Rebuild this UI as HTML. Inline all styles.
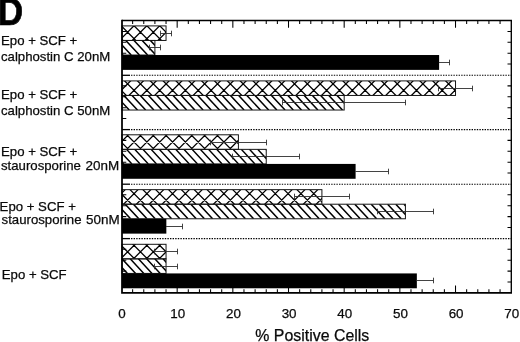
<!DOCTYPE html>
<html lang="en"><head><meta charset="utf-8"><title>Figure D</title>
<style>html,body{margin:0;padding:0;background:#fff}body{width:520px;height:342px;overflow:hidden}svg{display:block}text{font-family:"Liberation Sans",Arial,Helvetica,sans-serif;fill:#0a0a0a;stroke:#0a0a0a;stroke-width:0.25px}</style>
</head><body>
<svg width="520" height="342" viewBox="0 0 520 342">
<rect x="0" y="0" width="520" height="342" fill="#fff"/>
<text x="-2.58" y="24.9" font-size="38.5" font-weight="bold" style="fill:#000;stroke:#000;stroke-width:0.7px" transform="scale(0.915,1)">D</text>
<clipPath id="c1"><rect x="122.00" y="25.90" width="44.04" height="14.56"/></clipPath>
<g clip-path="url(#c1)" stroke="#000" stroke-width="1.3" fill="none">
<path d="M107.51 24.90L123.96 41.46M122.01 24.90L105.56 41.46M120.35 24.90L136.80 41.46M134.85 24.90L118.40 41.46M133.19 24.90L149.64 41.46M147.69 24.90L131.24 41.46M146.03 24.90L162.48 41.46M160.53 24.90L144.08 41.46M158.87 24.90L175.32 41.46M173.37 24.90L156.92 41.46"/>
</g>
<rect x="122.00" y="25.90" width="44.04" height="14.56" fill="none" stroke="#151515" stroke-width="1.0"/>
<clipPath id="c2"><rect x="122.00" y="40.46" width="32.90" height="14.56"/></clipPath>
<g clip-path="url(#c2)" stroke="#000" stroke-width="1.5" fill="none">
<path d="M101.20 40.46L114.81 55.02M109.40 40.46L123.01 55.02M117.60 40.46L131.21 55.02M125.80 40.46L139.41 55.02M134.00 40.46L147.61 55.02M142.20 40.46L155.81 55.02M150.40 40.46L164.01 55.02M158.60 40.46L172.21 55.02"/>
</g>
<rect x="122.00" y="40.46" width="32.90" height="14.56" fill="none" stroke="#151515" stroke-width="1.0"/>
<rect x="122.00" y="55.02" width="317.12" height="14.86" fill="#000"/>
<path d="M160.50 33.50H171.50M171.50 30.70V36.30M160.50 30.70V36.30" stroke="#2e2e2e" stroke-width="0.9" fill="none"/>
<path d="M149.50 47.50H160.50M160.50 44.70V50.30M149.50 44.70V50.30" stroke="#2e2e2e" stroke-width="0.9" fill="none"/>
<path d="M438.82 62.50H449.50M449.50 59.70V65.30" stroke="#2e2e2e" stroke-width="0.9" fill="none"/>
<clipPath id="c3"><rect x="122.00" y="80.90" width="333.52" height="14.56"/></clipPath>
<g clip-path="url(#c3)" stroke="#000" stroke-width="1.3" fill="none">
<path d="M110.80 79.90L127.26 96.46M123.64 79.90L140.10 96.46M136.48 79.90L152.94 96.46M149.32 79.90L165.78 96.46M162.16 79.90L178.62 96.46M175.00 79.90L191.46 96.46M187.84 79.90L204.30 96.46M200.68 79.90L217.14 96.46M213.52 79.90L229.98 96.46M226.36 79.90L242.82 96.46M131.56 79.90L115.10 96.46M239.20 79.90L255.66 96.46M144.40 79.90L127.94 96.46M252.04 79.90L268.50 96.46M157.24 79.90L140.78 96.46M264.88 79.90L281.34 96.46M170.08 79.90L153.62 96.46M277.72 79.90L294.18 96.46M182.92 79.90L166.46 96.46M290.56 79.90L307.02 96.46M195.76 79.90L179.30 96.46M303.40 79.90L319.86 96.46M208.60 79.90L192.14 96.46M316.24 79.90L332.70 96.46M221.44 79.90L204.98 96.46M329.08 79.90L345.54 96.46M234.28 79.90L217.82 96.46M341.92 79.90L358.38 96.46M247.12 79.90L230.66 96.46M354.76 79.90L371.22 96.46M259.96 79.90L243.50 96.46M367.60 79.90L384.06 96.46M272.80 79.90L256.34 96.46M380.44 79.90L396.90 96.46M285.64 79.90L269.18 96.46M393.28 79.90L409.74 96.46M298.48 79.90L282.02 96.46M406.12 79.90L422.58 96.46M311.32 79.90L294.86 96.46M418.96 79.90L435.42 96.46M324.16 79.90L307.70 96.46M431.80 79.90L448.26 96.46M337.00 79.90L320.54 96.46M444.64 79.90L461.10 96.46M349.84 79.90L333.38 96.46M457.48 79.90L473.94 96.46M362.68 79.90L346.22 96.46M375.52 79.90L359.06 96.46M388.36 79.90L371.90 96.46M401.20 79.90L384.74 96.46M414.04 79.90L397.58 96.46M426.88 79.90L410.42 96.46M439.72 79.90L423.26 96.46M452.56 79.90L436.10 96.46M465.40 79.90L448.94 96.46"/>
</g>
<rect x="122.00" y="80.90" width="333.52" height="14.56" fill="none" stroke="#151515" stroke-width="1.0"/>
<clipPath id="c4"><rect x="122.00" y="95.46" width="222.18" height="14.56"/></clipPath>
<g clip-path="url(#c4)" stroke="#000" stroke-width="1.5" fill="none">
<path d="M99.25 95.46L112.86 110.02M107.45 95.46L121.06 110.02M115.65 95.46L129.26 110.02M123.85 95.46L137.46 110.02M132.05 95.46L145.66 110.02M140.25 95.46L153.86 110.02M148.45 95.46L162.06 110.02M156.65 95.46L170.26 110.02M164.85 95.46L178.46 110.02M173.05 95.46L186.66 110.02M181.25 95.46L194.86 110.02M189.45 95.46L203.06 110.02M197.65 95.46L211.26 110.02M205.85 95.46L219.46 110.02M214.05 95.46L227.66 110.02M222.25 95.46L235.86 110.02M230.45 95.46L244.06 110.02M238.65 95.46L252.26 110.02M246.85 95.46L260.46 110.02M255.05 95.46L268.66 110.02M263.25 95.46L276.86 110.02M271.45 95.46L285.06 110.02M279.65 95.46L293.26 110.02M287.85 95.46L301.46 110.02M296.05 95.46L309.66 110.02M304.25 95.46L317.86 110.02M312.45 95.46L326.06 110.02M320.65 95.46L334.26 110.02M328.85 95.46L342.46 110.02M337.05 95.46L350.66 110.02M345.25 95.46L358.86 110.02"/>
</g>
<rect x="122.00" y="95.46" width="222.18" height="14.56" fill="none" stroke="#151515" stroke-width="1.0"/>
<path d="M438.50 88.50H472.50M472.50 85.70V91.30M438.50 85.70V91.30" stroke="#2e2e2e" stroke-width="0.9" fill="none"/>
<path d="M282.50 102.50H405.50M405.50 99.70V105.30M282.50 99.70V105.30" stroke="#2e2e2e" stroke-width="0.9" fill="none"/>
<clipPath id="c5"><rect x="122.00" y="134.80" width="116.41" height="14.56"/></clipPath>
<g clip-path="url(#c5)" stroke="#000" stroke-width="1.3" fill="none">
<path d="M113.01 133.80L129.47 150.36M125.85 133.80L142.31 150.36M138.69 133.80L155.15 150.36M151.53 133.80L167.99 150.36M164.37 133.80L180.83 150.36M177.21 133.80L193.67 150.36M190.05 133.80L206.51 150.36M202.89 133.80L219.35 150.36M215.73 133.80L232.19 150.36M228.57 133.80L245.03 150.36M129.35 133.80L112.89 150.36M142.19 133.80L125.73 150.36M155.03 133.80L138.57 150.36M167.87 133.80L151.41 150.36M180.71 133.80L164.25 150.36M193.55 133.80L177.09 150.36M206.39 133.80L189.93 150.36M219.23 133.80L202.77 150.36M232.07 133.80L215.61 150.36M244.91 133.80L228.45 150.36"/>
</g>
<rect x="122.00" y="134.80" width="116.41" height="14.56" fill="none" stroke="#151515" stroke-width="1.0"/>
<clipPath id="c6"><rect x="122.00" y="149.36" width="144.24" height="14.56"/></clipPath>
<g clip-path="url(#c6)" stroke="#000" stroke-width="1.5" fill="none">
<path d="M101.90 149.36L115.51 163.92M110.10 149.36L123.71 163.92M118.30 149.36L131.91 163.92M126.50 149.36L140.11 163.92M134.70 149.36L148.31 163.92M142.90 149.36L156.51 163.92M151.10 149.36L164.71 163.92M159.30 149.36L172.91 163.92M167.50 149.36L181.11 163.92M175.70 149.36L189.31 163.92M183.90 149.36L197.51 163.92M192.10 149.36L205.71 163.92M200.30 149.36L213.91 163.92M208.50 149.36L222.11 163.92M216.70 149.36L230.31 163.92M224.90 149.36L238.51 163.92M233.10 149.36L246.71 163.92M241.30 149.36L254.91 163.92M249.50 149.36L263.11 163.92M257.70 149.36L271.31 163.92M265.90 149.36L279.51 163.92M274.10 149.36L287.71 163.92"/>
</g>
<rect x="122.00" y="149.36" width="144.24" height="14.56" fill="none" stroke="#151515" stroke-width="1.0"/>
<rect x="122.00" y="163.92" width="233.61" height="14.86" fill="#000"/>
<path d="M210.50 142.50H266.50M266.50 139.70V145.30M210.50 139.70V145.30" stroke="#2e2e2e" stroke-width="0.9" fill="none"/>
<path d="M232.50 156.50H299.50M299.50 153.70V159.30M232.50 153.70V159.30" stroke="#2e2e2e" stroke-width="0.9" fill="none"/>
<path d="M355.31 171.50H388.50M388.50 168.70V174.30" stroke="#2e2e2e" stroke-width="0.9" fill="none"/>
<clipPath id="c7"><rect x="122.00" y="189.65" width="199.91" height="14.56"/></clipPath>
<g clip-path="url(#c7)" stroke="#000" stroke-width="1.3" fill="none">
<path d="M116.16 188.65L132.62 205.21M129.00 188.65L145.46 205.21M141.84 188.65L158.30 205.21M154.68 188.65L171.14 205.21M167.52 188.65L183.98 205.21M180.36 188.65L196.82 205.21M193.20 188.65L209.66 205.21M206.04 188.65L222.50 205.21M218.88 188.65L235.34 205.21M231.72 188.65L248.18 205.21M244.56 188.65L261.02 205.21M257.40 188.65L273.86 205.21M270.24 188.65L286.70 205.21M283.08 188.65L299.54 205.21M295.92 188.65L312.38 205.21M308.76 188.65L325.22 205.21M321.60 188.65L338.06 205.21M126.20 188.65L109.74 205.21M139.04 188.65L122.58 205.21M151.88 188.65L135.42 205.21M164.72 188.65L148.26 205.21M177.56 188.65L161.10 205.21M190.40 188.65L173.94 205.21M203.24 188.65L186.78 205.21M216.08 188.65L199.62 205.21M228.92 188.65L212.46 205.21M241.76 188.65L225.30 205.21M254.60 188.65L238.14 205.21M267.44 188.65L250.98 205.21M280.28 188.65L263.82 205.21M293.12 188.65L276.66 205.21M305.96 188.65L289.50 205.21M318.80 188.65L302.34 205.21M331.64 188.65L315.18 205.21"/>
</g>
<rect x="122.00" y="189.65" width="199.91" height="14.56" fill="none" stroke="#151515" stroke-width="1.0"/>
<clipPath id="c8"><rect x="122.00" y="204.21" width="283.42" height="14.56"/></clipPath>
<g clip-path="url(#c8)" stroke="#000" stroke-width="1.5" fill="none">
<path d="M100.60 204.21L114.21 218.77M108.80 204.21L122.41 218.77M117.00 204.21L130.61 218.77M125.20 204.21L138.81 218.77M133.40 204.21L147.01 218.77M141.60 204.21L155.21 218.77M149.80 204.21L163.41 218.77M158.00 204.21L171.61 218.77M166.20 204.21L179.81 218.77M174.40 204.21L188.01 218.77M182.60 204.21L196.21 218.77M190.80 204.21L204.41 218.77M199.00 204.21L212.61 218.77M207.20 204.21L220.81 218.77M215.40 204.21L229.01 218.77M223.60 204.21L237.21 218.77M231.80 204.21L245.41 218.77M240.00 204.21L253.61 218.77M248.20 204.21L261.81 218.77M256.40 204.21L270.01 218.77M264.60 204.21L278.21 218.77M272.80 204.21L286.41 218.77M281.00 204.21L294.61 218.77M289.20 204.21L302.81 218.77M297.40 204.21L311.01 218.77M305.60 204.21L319.21 218.77M313.80 204.21L327.41 218.77M322.00 204.21L335.61 218.77M330.20 204.21L343.81 218.77M338.40 204.21L352.01 218.77M346.60 204.21L360.21 218.77M354.80 204.21L368.41 218.77M363.00 204.21L376.61 218.77M371.20 204.21L384.81 218.77M379.40 204.21L393.01 218.77M387.60 204.21L401.21 218.77M395.80 204.21L409.41 218.77M404.00 204.21L417.61 218.77M412.20 204.21L425.81 218.77"/>
</g>
<rect x="122.00" y="204.21" width="283.42" height="14.56" fill="none" stroke="#151515" stroke-width="1.0"/>
<rect x="122.00" y="218.77" width="44.34" height="14.86" fill="#000"/>
<path d="M294.50 196.50H349.50M349.50 193.70V199.30M294.50 193.70V199.30" stroke="#2e2e2e" stroke-width="0.9" fill="none"/>
<path d="M377.50 211.50H433.50M433.50 208.70V214.30M377.50 208.70V214.30" stroke="#2e2e2e" stroke-width="0.9" fill="none"/>
<path d="M166.04 226.50H182.50M182.50 223.70V229.30" stroke="#2e2e2e" stroke-width="0.9" fill="none"/>
<clipPath id="c9"><rect x="122.00" y="244.30" width="44.04" height="14.56"/></clipPath>
<g clip-path="url(#c9)" stroke="#000" stroke-width="1.3" fill="none">
<path d="M106.27 243.30L122.73 259.86M119.11 243.30L135.57 259.86M131.95 243.30L148.41 259.86M144.79 243.30L161.25 259.86M157.63 243.30L174.09 259.86M123.25 243.30L106.79 259.86M136.09 243.30L119.63 259.86M148.93 243.30L132.47 259.86M161.77 243.30L145.31 259.86M174.61 243.30L158.15 259.86"/>
</g>
<rect x="122.00" y="244.30" width="44.04" height="14.56" fill="none" stroke="#151515" stroke-width="1.0"/>
<clipPath id="c10"><rect x="122.00" y="258.86" width="44.04" height="14.56"/></clipPath>
<g clip-path="url(#c10)" stroke="#000" stroke-width="1.5" fill="none">
<path d="M97.40 258.86L111.01 273.42M105.60 258.86L119.21 273.42M113.80 258.86L127.41 273.42M122.00 258.86L135.61 273.42M130.20 258.86L143.81 273.42M138.40 258.86L152.01 273.42M146.60 258.86L160.21 273.42M154.80 258.86L168.41 273.42M163.00 258.86L176.61 273.42M171.20 258.86L184.81 273.42"/>
</g>
<rect x="122.00" y="258.86" width="44.04" height="14.56" fill="none" stroke="#151515" stroke-width="1.0"/>
<rect x="122.00" y="273.42" width="294.85" height="14.86" fill="#000"/>
<path d="M154.50 251.50H177.50M177.50 248.70V254.30M154.50 248.70V254.30" stroke="#2e2e2e" stroke-width="0.9" fill="none"/>
<path d="M154.50 266.50H177.50M177.50 263.70V269.30M154.50 263.70V269.30" stroke="#2e2e2e" stroke-width="0.9" fill="none"/>
<path d="M416.55 280.50H433.50M433.50 277.70V283.30" stroke="#2e2e2e" stroke-width="0.9" fill="none"/>
<line x1="122.00" y1="75.30" x2="130.00" y2="75.30" stroke="#000" stroke-width="1.3"/>
<line x1="131.00" y1="75.30" x2="511.30" y2="75.30" stroke="#000" stroke-width="1.1" stroke-dasharray="1.4 1.2"/>
<line x1="122.00" y1="129.60" x2="130.00" y2="129.60" stroke="#000" stroke-width="1.3"/>
<line x1="131.00" y1="129.60" x2="511.30" y2="129.60" stroke="#000" stroke-width="1.1" stroke-dasharray="1.4 1.2"/>
<line x1="122.00" y1="184.20" x2="130.00" y2="184.20" stroke="#000" stroke-width="1.3"/>
<line x1="131.00" y1="184.20" x2="511.30" y2="184.20" stroke="#000" stroke-width="1.1" stroke-dasharray="1.4 1.2"/>
<line x1="122.00" y1="238.60" x2="130.00" y2="238.60" stroke="#000" stroke-width="1.3"/>
<line x1="131.00" y1="238.60" x2="511.30" y2="238.60" stroke="#000" stroke-width="1.1" stroke-dasharray="1.4 1.2"/>
<path d="M132.63 20.50v3.6M132.63 292.90v-3.6M143.77 20.50v3.6M143.77 292.90v-3.6M154.90 20.50v3.6M154.90 292.90v-3.6M166.04 20.50v3.6M166.04 292.90v-3.6M177.17 20.50v7.3M177.17 292.90v-7.3M188.30 20.50v3.6M188.30 292.90v-3.6M199.44 20.50v3.6M199.44 292.90v-3.6M210.57 20.50v3.6M210.57 292.90v-3.6M221.71 20.50v3.6M221.71 292.90v-3.6M232.84 20.50v7.3M232.84 292.90v-7.3M243.97 20.50v3.6M243.97 292.90v-3.6M255.11 20.50v3.6M255.11 292.90v-3.6M266.24 20.50v3.6M266.24 292.90v-3.6M277.38 20.50v3.6M277.38 292.90v-3.6M288.51 20.50v7.3M288.51 292.90v-7.3M299.64 20.50v3.6M299.64 292.90v-3.6M310.78 20.50v3.6M310.78 292.90v-3.6M321.91 20.50v3.6M321.91 292.90v-3.6M333.05 20.50v3.6M333.05 292.90v-3.6M344.18 20.50v7.3M344.18 292.90v-7.3M355.31 20.50v3.6M355.31 292.90v-3.6M366.45 20.50v3.6M366.45 292.90v-3.6M377.58 20.50v3.6M377.58 292.90v-3.6M388.72 20.50v3.6M388.72 292.90v-3.6M399.85 20.50v7.3M399.85 292.90v-7.3M410.98 20.50v3.6M410.98 292.90v-3.6M422.12 20.50v3.6M422.12 292.90v-3.6M433.25 20.50v3.6M433.25 292.90v-3.6M444.39 20.50v3.6M444.39 292.90v-3.6M455.52 20.50v7.3M455.52 292.90v-7.3M466.65 20.50v3.6M466.65 292.90v-3.6M477.79 20.50v3.6M477.79 292.90v-3.6M488.92 20.50v3.6M488.92 292.90v-3.6M500.06 20.50v3.6M500.06 292.90v-3.6M122.00 31.40h4.3M511.30 31.40h-3.8M122.00 42.29h4.3M511.30 42.29h-3.8M122.00 53.19h4.3M511.30 53.19h-3.8M122.00 64.08h4.3M511.30 64.08h-3.8M122.00 85.88h4.3M511.30 85.88h-3.8M122.00 96.77h4.3M511.30 96.77h-3.8M122.00 107.67h4.3M511.30 107.67h-3.8M122.00 118.56h4.3M511.30 118.56h-3.8M122.00 140.36h4.3M511.30 140.36h-3.8M122.00 151.25h4.3M511.30 151.25h-3.8M122.00 162.15h4.3M511.30 162.15h-3.8M122.00 173.04h4.3M511.30 173.04h-3.8M122.00 194.84h4.3M511.30 194.84h-3.8M122.00 205.73h4.3M511.30 205.73h-3.8M122.00 216.63h4.3M511.30 216.63h-3.8M122.00 227.52h4.3M511.30 227.52h-3.8M122.00 249.32h4.3M511.30 249.32h-3.8M122.00 260.21h4.3M511.30 260.21h-3.8M122.00 271.11h4.3M511.30 271.11h-3.8M122.00 282.00h4.3M511.30 282.00h-3.8" stroke="#000" stroke-width="1.05" fill="none"/>
<path d="M122.00 20.50H511.30V292.90" fill="none" stroke="#000" stroke-width="1.35"/>
<path d="M122.00 19.85V292.90H512.00" fill="none" stroke="#000" stroke-width="1.75" stroke-linejoin="miter"/>
<text x="122.10" y="318.2" font-size="13.4" text-anchor="middle">0</text>
<text x="177.77" y="318.2" font-size="13.4" text-anchor="middle">10</text>
<text x="233.44" y="318.2" font-size="13.4" text-anchor="middle">20</text>
<text x="289.11" y="318.2" font-size="13.4" text-anchor="middle">30</text>
<text x="344.78" y="318.2" font-size="13.4" text-anchor="middle">40</text>
<text x="400.45" y="318.2" font-size="13.4" text-anchor="middle">50</text>
<text x="456.12" y="318.2" font-size="13.4" text-anchor="middle">60</text>
<text x="511.79" y="318.2" font-size="13.4" text-anchor="middle">70</text>
<text x="312.3" y="340.5" font-size="15.9" text-anchor="middle">% Positive Cells</text>
<text x="1.0" y="44.9" font-size="13.2">Epo + SCF +</text>
<text x="1.0" y="60.8" font-size="13.2">calphostin C 20nM</text>
<text x="1.0" y="99.4" font-size="13.2">Epo + SCF +</text>
<text x="1.0" y="115.2" font-size="13.2">calphostin C 50nM</text>
<text x="1.0" y="155.7" font-size="13.2">Epo + SCF +</text>
<text x="1.0" y="169.9" font-size="13.2">staurosporine <tspan dx="0.9" font-size="13.45">20nM</tspan></text>
<text x="-0.4" y="210.8" font-size="13.2">Epo + SCF +</text>
<text x="1.6" y="224.3" font-size="13.2">staurosporine <tspan dx="0.9" font-size="13.45">50nM</tspan></text>
<text x="1.8" y="279.0" font-size="13.2">Epo + SCF</text>
</svg>
</body></html>
